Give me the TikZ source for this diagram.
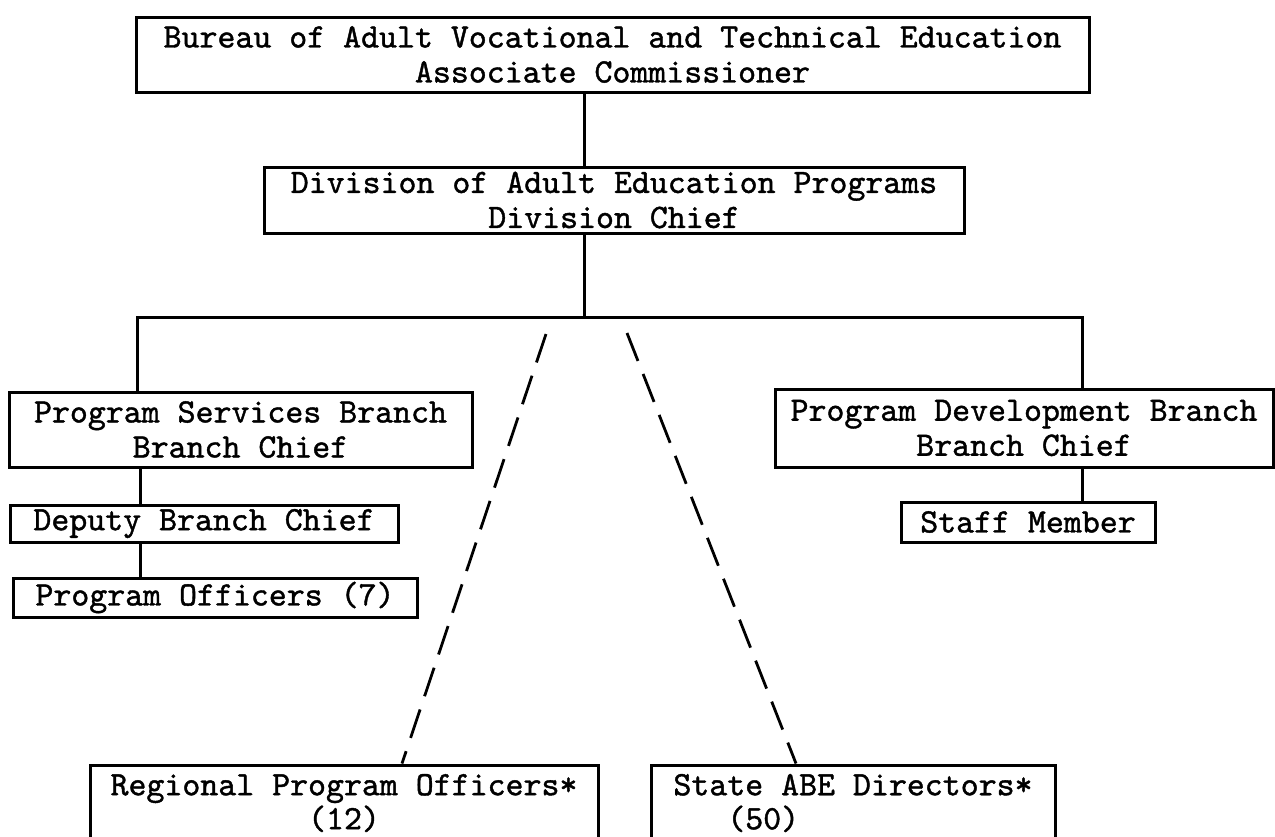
\documentclass[tikz,border=0pt]{standalone}
\usepackage{fontspec}
\newfontfamily\typewriter{lmmono10-regular.otf}[FakeBold=1.2]
\usetikzlibrary{positioning,calc}

\begin{document}
\begin{tikzpicture}[x=0.5pt, y=-0.5pt,
    box/.style={draw, line width=1.5pt, rectangle, inner sep=0pt, align=center,
      font=\typewriter\fontsize{17.1}{17.5}\selectfont},
    link/.style={line width=1.5pt},
    dashlink/.style={line width=1.4pt, dash pattern=on 15pt off 7pt}
  ]
  \useasboundingbox (0,0) rectangle (1275,836);
  \fill[white] (0,0) rectangle (1275,836);

  % bureau and division
  \node[box, minimum width=476.5pt, minimum height=37.5pt] (bureau) at (612.5,54.5)
    {Bureau of Adult Vocational and Technical Education\\Associate Commissioner};
  \node[box, minimum width=350pt, minimum height=33pt] (division) at (614,200)
    {Division of Adult Education Programs\\Division Chief};

  % the two branches
  \node[box, minimum width=231.5pt, minimum height=37.5pt] (ps) at (240.5,429.5)
    {Program Services Branch\\Branch Chief};
  \node[box, minimum width=194pt, minimum height=18.5pt] (deputy) at (204,523.5)
    {Deputy Branch Chief};
  \node[box, minimum width=202pt, minimum height=19.5pt] (po) at (215,597.5)
    {Program Officers (7)};
  \node[box, minimum width=249pt, minimum height=39pt] (pd) at (1024,428)
    {Program Development Branch\\Branch Chief};
  \node[box, minimum width=127pt, minimum height=20pt] (staff) at (1028,522)
    {Staff Member};

  % field offices
  \node[box, minimum width=254pt, minimum height=38pt] (regional) at (344,803)
    {Regional Program Officers*\\[-0.5pt](12)};
  \node[box, align=left, minimum width=202pt, minimum height=38pt] (state) at (853,803)
    {State ABE Directors*\\[-0.5pt]\hphantom{Sta}(50)};

  \coordinate (spine) at (584,0);
  \coordinate (barL) at (137,317);
  \coordinate (barR) at (1082,317);
  \coordinate (pstrunk) at (140,0);
  \coordinate (dashL) at (546,334);
  \coordinate (dashR) at (627,333);
  \coordinate (regtip) at (402,0);
  \coordinate (statetip) at (796,0);

  \draw[link] (bureau.south -| spine) -- (division.north -| spine);
  \draw[link] (division.south -| spine) -- (spine |- barL);
  \draw[link] (ps.north -| barL) -- (barL) -- (barR) -- (pd.north -| barR);
  \draw[link] (ps.south -| pstrunk) -- (deputy.north -| pstrunk);
  \draw[link] (deputy.south -| pstrunk) -- (po.north -| pstrunk);
  \draw[link] (pd.south -| barR) -- (staff.north -| barR);

  % dashed lines to the field
  \draw[dashlink] (dashL) -- (regional.north -| regtip);
  \draw[dashlink] (dashR) -- (state.north -| statetip);
\end{tikzpicture}
\end{document}
